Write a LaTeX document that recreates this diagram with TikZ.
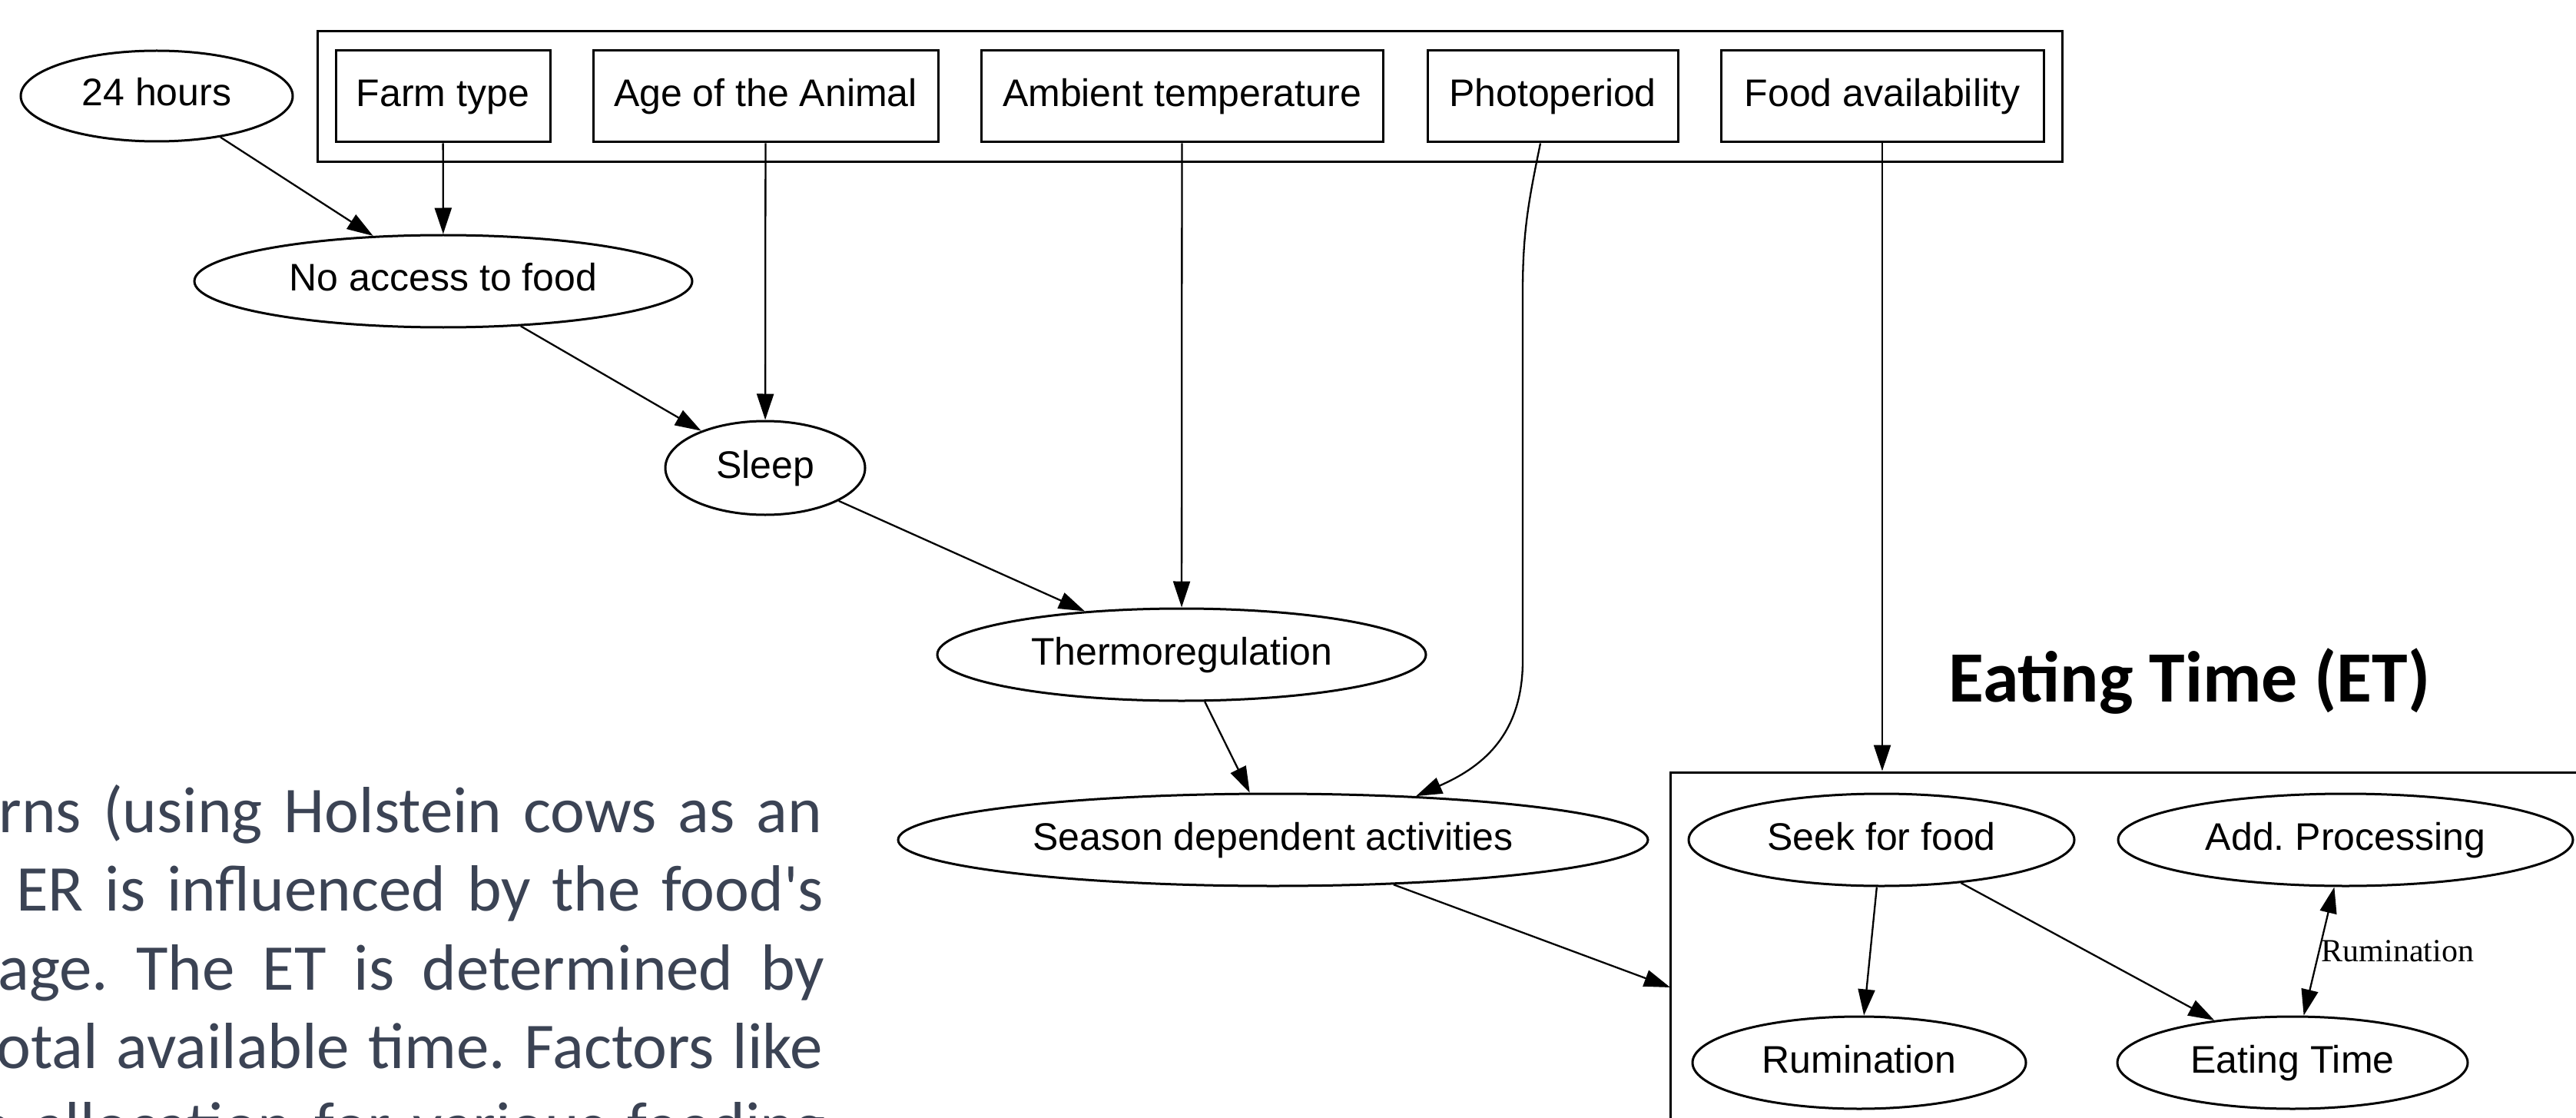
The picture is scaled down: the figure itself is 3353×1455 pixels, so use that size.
\documentclass[tikz,border=0pt]{standalone}
\usepackage{fontspec}
\setmainfont{Liberation Sans}
\newfontfamily\calfont{Carlito}
\newfontfamily\serfont{Liberation Serif}
\usetikzlibrary{shapes.geometric,arrows.meta}
\definecolor{txtgray}{RGB}{59,67,84}
\frenchspacing
\begin{document}
\begin{tikzpicture}[x=0.5pt,y=-0.5pt,
  shp/.style={draw=black, line width=1.5pt, inner sep=0pt, text height=18pt, text depth=5pt, font=\fontsize{25pt}{30pt}\selectfont},
  ell/.style={shp, ellipse},
  boxn/.style={shp, rectangle},
  arr/.style={line width=1.15pt, -{Triangle[length=17pt,width=11pt]}},
  biarr/.style={line width=1.15pt, {Triangle[length=17pt,width=11pt]}-{Triangle[length=17pt,width=11pt]}},
  para/.style={anchor=base west, inner sep=0pt, text=txtgray, font=\calfont\fontsize{42.5pt}{50pt}\selectfont}
]
\useasboundingbox (0,0) rectangle (3353,1455);

% factor group
\node[boxn, minimum width=1135.5pt, minimum height=85pt] (grp) at (1548.5,126) {};
\node[boxn, minimum width=139.5pt, minimum height=59.5pt] (farm) at (576.5,125.5) {Farm type};
\node[boxn, minimum width=224.5pt, minimum height=59.5pt] (age) at (996.5,125.5) {Age of the Animal};
\node[boxn, minimum width=261.5pt, minimum height=59.5pt] (amb) at (1538.5,125.5) {Ambient temperature};
\node[boxn, minimum width=163pt, minimum height=59.5pt] (photo) at (2021,125.5) {Photoperiod};
\node[boxn, minimum width=210pt, minimum height=59.5pt] (food) at (2450,125.5) {Food availability};

% chain
\node[ell, minimum width=177pt, minimum height=59pt] (h24) at (204,125) {24 hours};
\node[ell, minimum width=324pt, minimum height=60pt] (noacc) at (577,366) {No access to food};
\node[ell, minimum width=130pt, minimum height=61pt] (sleep) at (996,609) {Sleep};
\node[ell, minimum width=318pt, minimum height=60pt] (thermo) at (1538,852) {Thermoregulation};
\node[ell, minimum width=488pt, minimum height=60pt] (season) at (1657,1093) {Season dependent activities};

% eating time cluster
\node[boxn, minimum width=623pt, minimum height=257.5pt] (etcl) at (2797,1262.5) {};
\node[ell, minimum width=251pt, minimum height=60pt] (seek) at (2449,1093) {Seek for food};
\node[ell, minimum width=296pt, minimum height=60pt] (addp) at (3053,1093) {Add. Processing};
\node[ell, minimum width=217pt, minimum height=60pt] (rum) at (2420,1383) {Rumination};
\node[ell, minimum width=228pt, minimum height=60pt] (eat) at (2984,1383) {Eating Time};
\coordinate (sc) at (2174,1285);

% edges
\draw[arr] (h24) -- (noacc);
\draw[arr] (farm) -- (noacc);
\draw[arr] (noacc) -- (sleep);
\draw[arr] (age) -- (sleep);
\draw[arr] (sleep) -- (thermo);
\draw[arr] (amb) -- (thermo);
\draw[arr] (thermo) -- (season);
\draw[arr] ([xshift=-8pt]photo.south) .. controls (1990,260) and (1982,300) .. (1982,380)
   -- (1982,860) .. controls (1982,960) and (1925,1000) .. (season.17);
\draw[arr] (food.south) -- (food.south |- etcl.north);
\draw[arr] (season) -- (sc);
\draw[arr] (seek) -- (rum);
\draw[arr] (seek) -- (eat);
\draw[biarr] (addp) -- (eat) node[pos=0.5, anchor=west, inner sep=1pt, font=\serfont\fontsize{21pt}{25pt}\selectfont] (rumlbl) {Rumination};

% title
\node[anchor=base west, inner sep=0pt, font=\calfont\bfseries\fontsize{47pt}{56pt}\selectfont] (ettitle) at (2536,913) {Eating Time (ET)};

% paragraph fragment
\node[para] (p1) at (-2,1083) {\makebox[536pt][s]{rns (using Holstein cows as an}};
\node[para] (p2) at (21,1185) {\makebox[525.5pt][s]{ER is influenced by the food's}};
\node[para] (p3) at (-3,1288) {\makebox[538pt][s]{age. The ET is determined by}};
\node[para] (p4) at (-5,1390) {\makebox[538pt][s]{otal available time. Factors like}};
\node[para] (p5) at (-28,1493) {\makebox[551pt][s]{e allocation for various feeding}};
\end{tikzpicture}
\end{document}
